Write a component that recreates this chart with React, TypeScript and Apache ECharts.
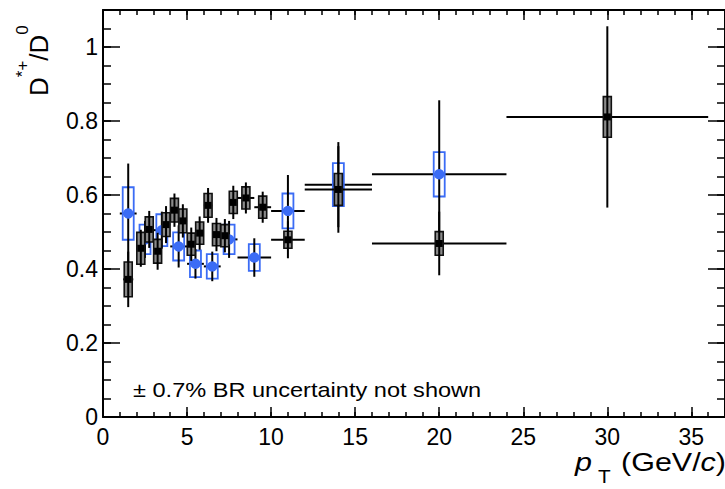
import React, { useEffect, useRef } from "react";
import * as echarts from "echarts";

// ---- data ----
// black series (finer bins)
const blackPt = [1.5, 2.25, 2.75, 3.25, 3.75, 4.25, 4.75, 5.25, 5.75, 6.25, 6.75, 7.25, 7.75, 8.5, 9.5, 11, 14, 20, 30];
const blackHalfBin = [0.3, 0.25, 0.25, 0.25, 0.25, 0.25, 0.25, 0.25, 0.25, 0.25, 0.25, 0.25, 0.25, 0.5, 0.5, 1, 2, 4, 6];
const blackVal = [0.372, 0.456, 0.507, 0.448, 0.52, 0.559, 0.53, 0.467, 0.497, 0.572, 0.493, 0.49, 0.58, 0.592, 0.567, 0.479, 0.615, 0.469, 0.811];
const blackStat = [0.075, 0.05, 0.05, 0.05, 0.05, 0.045, 0.045, 0.045, 0.045, 0.047, 0.045, 0.045, 0.045, 0.042, 0.042, 0.05, 0.117, 0.086, 0.245];
const blackSys = [0.047, 0.043, 0.034, 0.032, 0.032, 0.032, 0.032, 0.03, 0.03, 0.032, 0.03, 0.03, 0.03, 0.03, 0.03, 0.023, 0.043, 0.032, 0.055];

// blue series (coarser bins)
const bluePt = [1.5, 2.5, 3.5, 4.5, 5.5, 6.5, 7.5, 9, 11, 14, 20];
const blueHalfBin = [0.5, 0.5, 0.5, 0.5, 0.5, 0.5, 0.5, 1, 1, 2, 4];
const blueVal = [0.55, 0.48, 0.505, 0.461, 0.414, 0.407, 0.48, 0.431, 0.557, 0.628, 0.656];
const blueStat = [0.135, 0.05, 0.05, 0.057, 0.04, 0.04, 0.05, 0.052, 0.097, 0.115, 0.2];
const blueSys = [0.071, 0.04, 0.043, 0.038, 0.036, 0.033, 0.04, 0.036, 0.047, 0.058, 0.06];

const xTickLabels = ["0", "5", "10", "15", "20", "25", "30", "35"];
const yTickLabels = ["0", "0.2", "0.4", "0.6", "0.8", "1"];

const X_MIN = 0, X_MAX = 37, Y_MIN = 0, Y_MAX = 1.1;
const FONT = "'Liberation Sans', Arial, Helvetica, sans-serif";
const BLUE = "#3b6cf5";
const STRETCH = 1.15;

function build(pt: number[], hb: number[], v: number[], st: number[], sy: number[]) {
  return pt.map((p, i) => [p, v[i], hb[i], st[i], sy[i]]);
}

function makeRender(kind: "black" | "blue") {
  return (params: any, api: any) => {
    const x = api.value(0), y = api.value(1), xe = api.value(2), se = api.value(3), sy = api.value(4);
    const c = api.coord([x, y]);
    const l = api.coord([x - xe, y]);
    const r = api.coord([x + xe, y]);
    const t = api.coord([x, y + se]);
    const b = api.coord([x, y - se]);
    const bt = api.coord([x, y + sy]);
    const bb = api.coord([x, y - sy]);
    const w = kind === "black" ? 8 : 11;
    const box = {
      type: "rect",
      shape: { x: c[0] - w / 2, y: bt[1], width: w, height: bb[1] - bt[1] },
      style: kind === "black"
        ? { fill: "#8a8a8a", stroke: "#111", lineWidth: 1.6 }
        : { fill: "none", stroke: BLUE, lineWidth: 1.8 },
    };
    const vline = { type: "line", shape: { x1: c[0], y1: t[1], x2: c[0], y2: b[1] }, style: { stroke: "#000", lineWidth: 2 } };
    const hline = { type: "line", shape: { x1: l[0], y1: c[1], x2: r[0], y2: c[1] }, style: { stroke: "#000", lineWidth: 2 } };
    const marker = kind === "black"
      ? { type: "rect", shape: { x: c[0] - 3.5, y: c[1] - 3.5, width: 7, height: 7 }, style: { fill: "#000" } }
      : { type: "circle", shape: { cx: c[0], cy: c[1], r: 5.2 }, style: { fill: BLUE } };
    return { type: "group", children: [hline, box, vline, marker] };
  };
}

function xAxisDef(position: "bottom" | "top", major: boolean) {
  return {
    type: "value", position, min: X_MIN, max: X_MAX, interval: major ? 5 : 1,
    axisLine: { show: major, onZero: false, lineStyle: { color: "#000", width: 2 } },
    axisTick: { show: true, inside: true, length: major ? 10 : 5, lineStyle: { color: "#000", width: 1.5 } },
    axisLabel: {
      show: major && position === "bottom", showMaxLabel: false, color: "#000", fontSize: 23, fontFamily: FONT, margin: 8,
      formatter: (val: number) => xTickLabels[Math.round(val / 5)] ?? "",
    },
    splitLine: { show: false },
  };
}
function yAxisDef(position: "left" | "right", major: boolean) {
  return {
    type: "value", position, min: Y_MIN, max: Y_MAX, interval: major ? 0.2 : 0.05,
    axisLine: { show: major, onZero: false, lineStyle: { color: "#000", width: 2 } },
    axisTick: { show: true, inside: true, length: major ? 17 : 8, lineStyle: { color: "#000", width: 1.5 } },
    axisLabel: {
      show: major && position === "left", showMaxLabel: false, color: "#000", fontSize: 23, fontFamily: FONT, margin: 5,
      formatter: (val: number) => yTickLabels[Math.round(val / 0.2)] ?? "",
    },
    splitLine: { show: false },
  };
}

export default function App() {
  const ref = useRef<HTMLDivElement>(null);
  useEffect(() => {
    const chart = echarts.init(ref.current!, undefined, { renderer: "svg" });
    const option: any = {
      animation: false,
      backgroundColor: "#fff",
      grid: { left: 103, right: -1, top: 10, bottom: 72, containLabel: false },
      xAxis: [xAxisDef("bottom", true), xAxisDef("bottom", false), xAxisDef("top", true), xAxisDef("top", false)],
      yAxis: [yAxisDef("left", true), yAxisDef("left", false), yAxisDef("right", true), yAxisDef("right", false)],
      series: [
        {
          type: "custom", name: "blue", coordinateSystem: "cartesian2d", xAxisIndex: 0, yAxisIndex: 0,
          data: build(bluePt, blueHalfBin, blueVal, blueStat, blueSys), renderItem: makeRender("blue"),
          encode: { x: 0, y: 1 }, clip: false, z: 3,
        },
        {
          type: "custom", name: "black", coordinateSystem: "cartesian2d", xAxisIndex: 0, yAxisIndex: 0,
          data: build(blackPt, blackHalfBin, blackVal, blackStat, blackSys), renderItem: makeRender("black"),
          encode: { x: 0, y: 1 }, clip: false, z: 4,
        },
      ],
      graphic: [
        {
          type: "text", x: 52, y: 96, rotation: Math.PI / 2,
          style: {
            text: "{n|D}{s|*+}{n|/D}{s|0}{z| }",
            align: "left", verticalAlign: "bottom", fill: "#000",
            rich: {
              n: { fontSize: 26, fontFamily: FONT, lineHeight: 30, verticalAlign: "bottom", fill: "#000" },
              s: { fontSize: 17, fontFamily: FONT, lineHeight: 17, verticalAlign: "top", fill: "#000" },
              z: { fontSize: 1, lineHeight: 38, verticalAlign: "top" },
            },
          },
        },
        {
          type: "text", x: 726, y: 462, scaleX: STRETCH,
          style: {
            text: "(GeV/{i|c})", align: "right", verticalAlign: "middle", fill: "#000",
            font: `26.5px ${FONT}`,
            rich: { i: { fontSize: 26.5, fontFamily: FONT, fontStyle: "italic", fill: "#000" } },
          },
        },
        { type: "text", x: 575, y: 462, scaleX: STRETCH, style: { text: "p", align: "left", verticalAlign: "middle", fill: "#000", font: `italic 26.5px ${FONT}` } },
        { type: "text", x: 598, y: 477, scaleX: STRETCH, style: { text: "T", align: "left", verticalAlign: "middle", fill: "#000", font: `18px ${FONT}` } },
        { type: "text", x: 133, y: 390, scaleX: STRETCH, style: { text: "\u00b1 0.7% BR uncertainty not shown", align: "left", verticalAlign: "middle", fill: "#000", font: `20.5px ${FONT}` } },
      ],
    };
    chart.setOption(option);
    return () => chart.dispose();
  }, []);
  return <div ref={ref} style={{ position: "absolute", left: 0, top: 0, width: 725, height: 489 }} />;
}
